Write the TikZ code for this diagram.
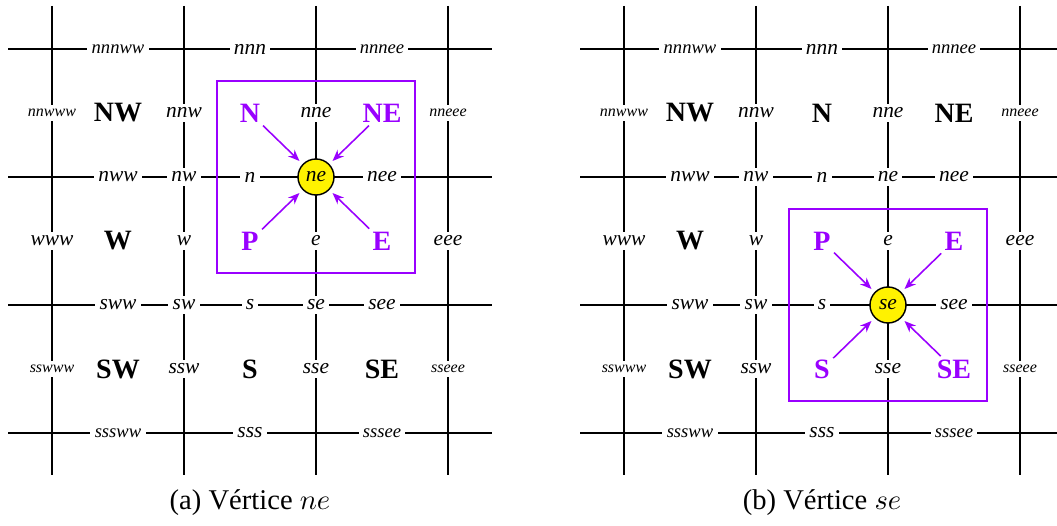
\documentclass[tikz,border=0pt]{standalone}
\usepackage{fontspec}
\setmainfont{Liberation Serif}
\usetikzlibrary{arrows.meta}
\definecolor{hotpurple}{RGB}{153,0,255}
% fonts of the grid labels
\newcommand\lblfont{\fontsize{7.5}{9}\selectfont\itshape}
\newcommand\smlfont{\fontsize{6.5}{8}\selectfont\itshape}
\newcommand\tnyfont{\fontsize{5.6}{7}\selectfont\itshape}
\newcommand\bigfont{\fontsize{9.8}{12}\selectfont\bfseries}
\tikzset{
  gridln/.style={line width=0.45pt},
  lbl/.style={fill=white, inner sep=1.5pt, font=\lblfont},
  sml/.style={lbl, font=\smlfont},
  tny/.style={lbl, font=\tnyfont},
  big/.style={inner sep=1pt, font=\bigfont},
  hot/.style={big, text=hotpurple},
  vtx/.style={circle, draw, line width=0.5pt, fill=yellow, minimum size=12.6pt, inner sep=0pt, font=\lblfont},
  arr/.style={hotpurple, line width=0.55pt, -{Stealth[length=4pt,width=3.2pt]}, shorten >=1.5pt},
  win/.style={hotpurple, line width=0.55pt},
}
\begin{document}
\begin{tikzpicture}[x=1.62346cm, y=-1.57427cm]
\useasboundingbox (-0.3939,-0.3828) rectangle (7.6136,3.71875);
% Common part of both panels: grid, window and labels
\foreach \p/\dx/\v/\by in {a/0/ne/0.25, b/4.3333/se/1.25} {
\begin{scope}[shift={(\dx,0)}]
\foreach \i in {0,...,3} {
  \draw[gridln] (\i,-0.336) -- (\i,3.328);
  \draw[gridln] (-0.333,\i) -- (3.333,\i);
}
\draw[win] (1.25,\by) rectangle (2.75,\by+1.5);
\foreach \t/\x/\y in {nnn/1.5/0, nnw/1/0.5, nne/2/0.5, nww/0.5/1, nw/1/1, n/1.5/1, nee/2.5/1,
  www/0/1.5, w/1/1.5, e/2/1.5, eee/3/1.5, sww/0.5/2, sw/1/2, s/1.5/2, see/2.5/2,
  ssw/1/2.5, sse/2/2.5, sss/1.5/3}
  \node[lbl] (\p-\t) at (\x,\y) {\t};
\foreach \t/\x/\y in {nnnww/0.5/0, nnnee/2.5/0, sssww/0.5/3, sssee/2.5/3}
  \node[sml] (\p-\t) at (\x,\y) {\t};
\foreach \t/\x/\y in {nnwww/0/0.5, nneee/3/0.5, sswww/0/2.5, sseee/3/2.5}
  \node[tny] (\p-\t) at (\x,\y) {\t};
\foreach \t/\x/\y in {NW/0.5/0.5, W/0.5/1.5, SW/0.5/2.5}
  \node[big] (\p-\t) at (\x,\y) {\t};
\node[hot] (\p-P) at (1.5,1.5) {P};
\node[hot] (\p-E) at (2.5,1.5) {E};
\node (\p-cap) at (1.5,3.547) {(\p) Vértice $\v$};
\end{scope}
}

% Panel (a): vertex ne
\node[lbl] (a-se) at (2,2) {se};
\node[vtx] (a-ne) at (2,1) {ne};
\node[hot] (a-N) at (1.5,0.5) {N};
\node[hot] (a-NE) at (2.5,0.5) {NE};
\node[big] (a-S) at (1.5,2.5) {S};
\node[big] (a-SE) at (2.5,2.5) {SE};
\foreach \s in {N,NE,P,E}
  \draw[arr] (a-\s) -- (a-ne);

% Panel (b): vertex se
\begin{scope}[shift={(4.3333,0)}]
\node[lbl] (b-ne) at (2,1) {ne};
\node[vtx] (b-se) at (2,2) {se};
\node[big] (b-N) at (1.5,0.5) {N};
\node[big] (b-NE) at (2.5,0.5) {NE};
\node[hot] (b-S) at (1.5,2.5) {S};
\node[hot] (b-SE) at (2.5,2.5) {SE};
\foreach \s in {P,E,S,SE}
  \draw[arr] (b-\s) -- (b-se);
\end{scope}
\end{tikzpicture}
\end{document}
